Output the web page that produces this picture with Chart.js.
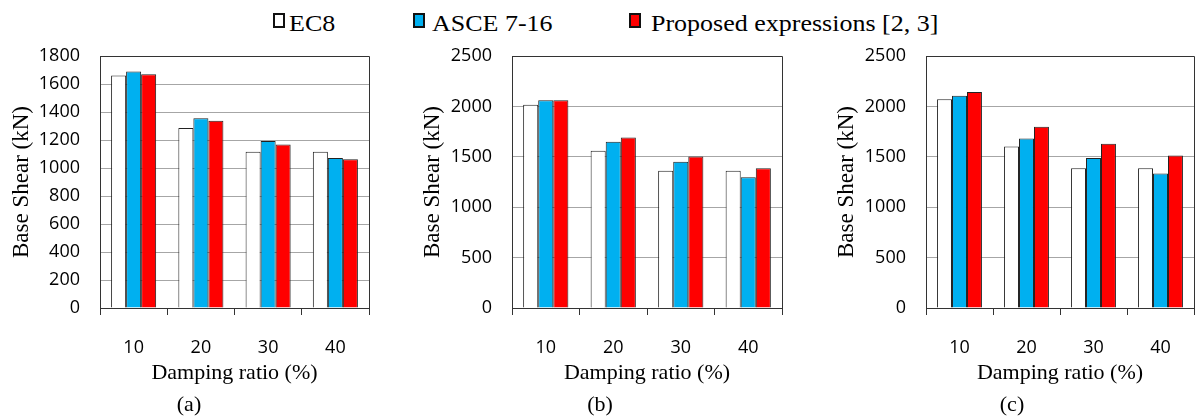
<!DOCTYPE html>
<html>
<head>
<meta charset="utf-8">
<script src="https://cdn.jsdelivr.net/npm/chart.js@4.4.1/dist/chart.umd.min.js"></script>
<style>
    body { margin: 0; background: #fff; width: 1195px; height: 418px; position: relative; overflow: hidden; }
    .panel { position: absolute; top: 0; height: 418px; }
    .legend-item { position: absolute; top: 0; height: 40px; }
    .legend-box { position: absolute; top: 13px; width: 8px; height: 11px; border: 2px solid #111; }
    .legend-text { position: absolute; top: 12px; font-family: "Liberation Serif", serif; font-size: 23px; line-height: 23px; white-space: nowrap; transform: scaleX(1.13); transform-origin: left top; color: #000; }
    .caption { position: absolute; top: 392px; font-family: "Liberation Serif", serif; font-size: 22px; line-height: 24px; transform: translateX(-50%); color: #000; }
</style>
</head>
<body>
<div class="legend-item" style="left:273px;"><div class="legend-box" style="background:#fff;"></div><span class="legend-text" style="left:16px;">EC8</span></div>
<div class="legend-item" style="left:413px;"><div class="legend-box" style="background:#00b0f0;"></div><span class="legend-text" style="left:19px;">ASCE 7-16</span></div>
<div class="legend-item" style="left:629px;"><div class="legend-box" style="background:#ff0000;"></div><span class="legend-text" style="left:22px;">Proposed expressions [2, 3]</span></div>

<div class="panel" style="left:0px;width:380px;"><canvas id="chartA" width="380" height="418"></canvas></div>
<div class="panel" style="left:400px;width:390px;"><canvas id="chartB" width="390" height="418"></canvas></div>
<div class="panel" style="left:800px;width:395px;"><canvas id="chartC" width="395" height="418"></canvas></div>

<div class="caption" style="left:189px;">(a)</div>
<div class="caption" style="left:600px;">(b)</div>
<div class="caption" style="left:1012px;">(c)</div>

<script>
// 데이터
const damping = ['10', '20', '30', '40'];
const seriesNames = ['EC8', 'ASCE 7-16', 'Proposed expressions [2, 3]'];

const ec8A = [1660, 1285, 1116, 1116];
const asceA = [1690, 1355, 1192, 1071];
const propA = [1669, 1338, 1168, 1063];

const ec8B = [2017, 1560, 1361, 1361];
const asceB = [2060, 1649, 1450, 1298];
const propB = [2060, 1692, 1503, 1387];

const ec8C = [2070, 1603, 1387, 1387];
const asceC = [2106, 1682, 1487, 1334];
const propC = [2142, 1798, 1629, 1513];

const yMaxA = 1800, yStepA = 200;
const yMaxB = 2500, yStepB = 500;

// plot area frame (top + right)
const framePlugin = {
    id: 'frame',
    afterDraw(chart) {
        const a = chart.chartArea;
        const ctx = chart.ctx;
        ctx.save();
        ctx.strokeStyle = '#333';
        ctx.lineWidth = 1;
        ctx.beginPath();
        ctx.moveTo(a.left, a.top + 0.5);
        ctx.lineTo(a.right + 0.5, a.top + 0.5);
        ctx.lineTo(a.right + 0.5, a.bottom);
        ctx.stroke();
        ctx.restore();
    }
};

function makeChart(id, ec8, asce, prop, yMax, yStep, yWidth, titlePad, rightPad) {
    const ctx = document.getElementById(id);
    if (!ctx) return;

    new Chart(ctx, {
        type: 'bar',
        data: {
            labels: damping,
            datasets: [
                { label: seriesNames[0], data: ec8, backgroundColor: '#ffffff' },
                { label: seriesNames[1], data: asce, backgroundColor: '#00b0f0' },
                { label: seriesNames[2], data: prop, backgroundColor: '#ff0000' }
            ].map(d => Object.assign(d, { borderColor: '#222', borderWidth: 1, barPercentage: 1, categoryPercentage: 0.67 }))
        },
        options: {
            responsive: false,
            animation: false,
            layout: { padding: { top: 56, right: rightPad, bottom: 0, left: 0 } },
            plugins: {
                legend: { display: false },
                tooltip: { enabled: false }
            },
            scales: {
                x: {
                    grid: { offset: true, drawOnChartArea: false, tickLength: 7, color: '#333' },
                    border: { color: '#333' },
                    ticks: { color: '#000', padding: 22, font: { family: '"Open Sans"', size: 18 } },
                    title: {
                        display: true,
                        text: 'Damping ratio (%)',
                        color: '#000',
                        font: { family: '"Liberation Serif"', size: 22 },
                        padding: { top: 0, bottom: 32 }
                    },
                    afterFit: scale => { scale.height = 110; }
                },
                y: {
                    min: 0,
                    max: yMax,
                    ticks: {
                        stepSize: yStep,
                        color: '#000',
                        padding: 20,
                        font: { family: '"Open Sans"', size: 18 },
                        callback: value => String(value)
                    },
                    grid: { color: '#a6a6a6', drawTicks: false },
                    border: { color: '#333' },
                    title: {
                        display: true,
                        text: 'Base Shear (kN)',
                        color: '#000',
                        font: { family: '"Liberation Serif"', size: 23 },
                        padding: { top: titlePad, bottom: 0 }
                    },
                    afterFit: scale => { scale.width = yWidth; }
                }
            }
        },
        plugins: [framePlugin]
    });
}

document.addEventListener('DOMContentLoaded', function() {
    // (a)
    makeChart('chartA', ec8A, asceA, propA, yMaxA, yStepA, 100, 8, 11);
    // (b)
    makeChart('chartB', ec8B, asceB, propB, yMaxB, yStepB, 112, 19, 8);
    // (c)
    makeChart('chartC', ec8C, asceC, propC, yMaxB, yStepB, 126, 33, 1);
});
</script>
</body>
</html>
